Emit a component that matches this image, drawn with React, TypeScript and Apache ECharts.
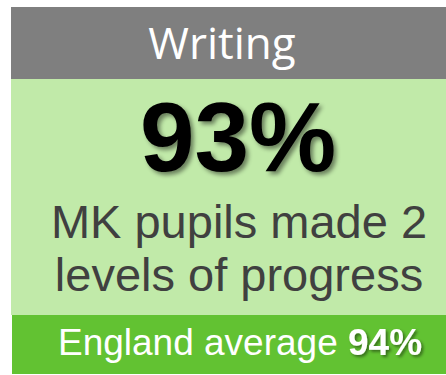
import React, { useEffect, useRef } from "react";
import * as echarts from "echarts";

const subjects = ["Writing"];
const mkValues = [93];
const englandValues = [94];
const descriptionLines = ["MK pupils made 2", "levels of progress"];
const benchmarkLabel = "England average";

export default function App() {
  const ref = useRef<HTMLDivElement>(null);
  useEffect(() => {
    document.body.style.margin = "0";
    const chart = echarts.init(ref.current!, undefined, { renderer: "svg" });
    const textFont = "Arial, 'Liberation Sans', sans-serif";
    chart.setOption({
      animation: false,
      graphic: [
        { type: "rect", shape: { x: 11, y: 7, width: 435, height: 72 }, style: { fill: "#7f7f7f" } },
        { type: "rect", shape: { x: 11, y: 79, width: 435, height: 236 }, style: { fill: "#c1eaa9" } },
        { type: "rect", shape: { x: 12, y: 315, width: 434, height: 59 }, style: { fill: "#62c232" } },
        {
          type: "text", x: 222, y: 42,
          style: {
            text: subjects[0], fill: "#ffffff", font: "44px 'Open Sans', 'Noto Sans', sans-serif",
            align: "center", verticalAlign: "middle",
          },
        },
        {
          type: "text", x: 238, y: 137,
          style: {
            text: mkValues[0] + "%", fill: "#000000", font: "bold 98px " + textFont,
            align: "center", verticalAlign: "middle",
            textShadowColor: "rgba(0,0,0,0.45)", textShadowBlur: 4, textShadowOffsetX: 3, textShadowOffsetY: 3,
          },
        },
        {
          type: "text", x: 239, y: 221,
          style: {
            text: descriptionLines[0], fill: "#404040", font: "47px " + textFont,
            align: "center", verticalAlign: "middle",
          },
        },
        {
          type: "text", x: 239, y: 274,
          style: {
            text: descriptionLines[1], fill: "#404040", font: "47px " + textFont,
            align: "center", verticalAlign: "middle",
          },
        },
        {
          type: "text", x: 240, y: 342,
          style: {
            text: "{n|" + benchmarkLabel + " }{b|" + englandValues[0] + "%}",
            align: "center", verticalAlign: "middle",
            rich: {
              n: { fill: "#ffffff", font: "37px " + textFont },
              b: {
                fill: "#ffffff", font: "bold 37px " + textFont,
                textShadowColor: "rgba(0,0,0,0.45)", textShadowBlur: 3, textShadowOffsetX: 2, textShadowOffsetY: 2,
              },
            },
          },
        },
      ],
    });
    return () => chart.dispose();
  }, []);
  return <div ref={ref} style={{ position: "absolute", left: 0, top: 0, width: 446, height: 375 }} />;
}
